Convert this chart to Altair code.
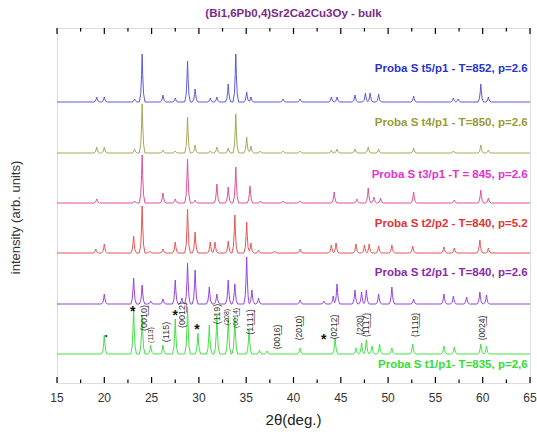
import altair as alt
import pandas as pd

FONT = "Liberation Sans"
X_MIN, X_MAX = 15, 65
Y_MAX = 355
PLOT_W, PLOT_H = 473, 355
HALF_WIDTH = 0.3

# ---- series (top to bottom) ----
series_names = ["t5", "t4", "t3", "t2p2", "t2p1", "t1"]
series_labels = [
    "Proba S t5/p1 - T=852, p=2.6",
    "Proba S t4/p1 - T=850, p=2.6",
    "Proba S t3/p1 -T = 845, p=2.6",
    "Proba S t2/p2 - T=840, p=5.2",
    "Proba S t2/p1 - T=840, p=2.6",
    "Proba S t1/p1- T=835, p=2,6",
]
line_colors = ["#5a5ad8", "#a6a65a", "#e0509a", "#e85555", "#9545e0", "#45e045"]
label_colors = ["#2a35c8", "#9a9a38", "#e830d0", "#e03535", "#8a2aa8", "#35dd35"]
offsets = [281, 230, 180, 130, 79, 29]
label_y = [314, 260, 208, 159, 110, 18]

t5_pos = [19.2, 20.0, 23.2, 24.0, 26.2, 27.5, 28.8, 29.6, 31.2, 31.9, 33.1, 33.9, 35.05, 35.5, 38.9,
          40.7, 44.0, 44.6, 46.5, 47.6, 48.1, 49.0, 52.7, 56.9, 57.4, 59.8, 60.6]
t5_h = [5, 5, 3, 48, 7, 4, 41, 13, 4, 5, 18, 48, 10, 5, 3,
        3, 5, 5, 7, 9, 9, 8, 6, 4, 3, 18, 5]

t4_pos = [19.2, 20.0, 23.2, 24.0, 26.2, 27.5, 28.8, 29.6, 31.2, 31.9, 33.1, 33.9, 35.05, 35.5, 36.5, 38.9,
          40.7, 44.0, 44.6, 46.5, 47.9, 49.0, 52.7, 56.9, 59.8, 60.6]
t4_h = [6, 6, 4, 49, 3, 2, 36, 8, 2, 6, 5, 39, 16, 7, 2, 2,
        2, 3, 4, 4, 6, 4, 5, 2, 8, 3]

t3_pos = [19.2, 23.2, 24.0, 26.2, 27.5, 28.8, 29.6, 31.9, 33.1, 33.9, 35.4, 36.5, 38.9,
          40.7, 44.3, 46.7, 47.9, 48.5, 49.2, 52.7, 57.0, 59.8, 60.6]
t3_h = [4, 2, 48, 10, 4, 44, 3, 19, 16, 36, 17, 2, 2,
        2, 11, 4, 15, 6, 5, 11, 3, 13, 5]

t2p2_pos = [19.1, 20.0, 23.1, 24.0, 24.8, 26.2, 27.5, 28.8, 29.6, 31.2, 31.7, 33.1, 33.8, 35.05, 35.5, 36.3, 38.0,
            40.7, 44.0, 44.5, 46.6, 47.5, 48.0, 49.0, 50.4, 52.6, 55.9, 57.0, 59.7, 60.6]
t2p2_h = [4, 9, 17, 47, 2, 4, 11, 44, 21, 11, 11, 12, 38, 31, 10, 3, 2,
          4, 8, 10, 9, 8, 9, 7, 8, 7, 6, 5, 13, 5]

t2p1_pos = [20.0, 23.1, 24.0, 24.9, 26.2, 27.5, 28.2, 28.8, 29.6, 31.1, 31.9, 33.1, 33.8, 35.05, 35.6, 36.3,
            40.7, 43.2, 44.2, 44.6, 46.5, 47.2, 47.7, 49.0, 50.4, 52.7, 55.9, 56.9, 58.3, 59.7, 60.4]
t2p1_h = [10, 26, 19, 3, 5, 24, 6, 41, 34, 17, 10, 24, 20, 47, 14, 6,
          4, 3, 8, 20, 14, 12, 14, 10, 17, 5, 10, 8, 7, 12, 9]

t1_pos = [20.0, 23.1, 24.0, 24.9, 26.2, 27.5, 28.8, 29.9, 31.1, 31.9, 33.1, 33.8, 35.3, 36.4, 37.2,
          40.7, 44.4, 46.6, 47.2, 47.7, 48.3, 49.1, 50.4, 52.6, 55.9, 57.0, 59.8, 60.4]
t1_h = [19, 46, 39, 9, 9, 35, 47, 21, 29, 39, 36, 37, 24, 4, 3,
        6, 16, 6, 11, 14, 8, 10, 6, 10, 8, 7, 10, 8]

peak_positions = [t5_pos, t4_pos, t3_pos, t2p2_pos, t2p1_pos, t1_pos]
peak_heights = [t5_h, t4_h, t3_h, t2p2_h, t2p1_h, t1_h]

# ---- annotations on the bottom pattern ----
star_x = [23.0, 27.5, 29.8, 43.2]
star_y = [74, 70, 56, 46]
dot_x = [20.2]
dot_y = [47]

hkl_text = ["(001\u03320\u0332)", "(113)", "(115)", "(001\u03322\u0332)", "(119)", "(208)", "(001\u03324\u0332)",
            "(11\u03321\u03321\u0332)", "(001\u03326\u0332)", "(201\u03320\u0332)", "(021\u03322\u0332)", "(220)",
            "(11\u03321\u03327\u0332)", "(11\u03321\u03329\u0332)", "(002\u03324\u0332)"]
hkl_x = [24.17, 24.9, 26.5, 28.2, 31.9, 33.0, 33.9, 35.4, 38.3, 40.6, 44.3, 47.0, 47.7, 52.8, 59.9]
hkl_y = [65, 48, 51, 68, 69, 66, 65, 61, 46, 55, 56, 58, 58, 58, 55]
hkl_size = [9, 7, 9, 9, 9, 7, 7, 9, 8.5, 8.5, 8.5, 8.5, 8.5, 8.5, 8.5]

# ---- axis tick values and titles ----
major_ticks = [15, 20, 25, 30, 35, 40, 45, 50, 55, 60, 65]
minor_ticks = [17.5, 22.5, 27.5, 32.5, 37.5, 42.5, 47.5, 52.5, 57.5, 62.5]
x_title = "2θ(deg.)"
y_title = "intensity (arb. units)"
chart_title = "(Bi1,6Pb0,4)Sr2Ca2Cu3Oy - bulk"

# ---- build line table from peak lists ----
rows = []
for s, (name, pos, hts, off) in enumerate(zip(series_names, peak_positions, peak_heights, offsets)):
    xs = {X_MIN, X_MAX}
    for p in pos:
        xs.update([round(p - HALF_WIDTH, 3), round(p - HALF_WIDTH / 2, 3), round(p - HALF_WIDTH / 5, 3), p,
                   round(p + HALF_WIDTH / 5, 3), round(p + HALF_WIDTH / 2, 3), round(p + HALF_WIDTH, 3)])
    for x in sorted(xs):
        v = 0.0
        for p, h in zip(pos, hts):
            d = abs(x - p)
            if d < HALF_WIDTH:
                frac = 1 - d / HALF_WIDTH
                v = max(v, h * frac ** 2.5)
        rows.append({"series": name, "order": s, "x": x, "y": off + v})
lines_df = pd.DataFrame(rows)

labels_df = pd.DataFrame({"series": series_names, "label": series_labels,
                          "x": [64.75] * 6, "y": label_y})
stars_df = pd.DataFrame({"x": star_x, "y": star_y})
dots_df = pd.DataFrame({"x": dot_x, "y": dot_y})
hkl_df = pd.DataFrame({"t": hkl_text, "x": hkl_x, "y": hkl_y, "s": hkl_size})
major_df = pd.DataFrame({"x": major_ticks, "t": [str(v) for v in major_ticks]})
minor_df = pd.DataFrame({"x": minor_ticks})

xscale = alt.Scale(domain=[X_MIN, X_MAX], nice=False, zero=False)
yscale = alt.Scale(domain=[0, Y_MAX], nice=False, zero=False)

X_PLAIN = alt.X("x:Q", scale=xscale, axis=None)
Y_PLAIN = alt.Y("y:Q", scale=yscale, axis=None)

lines = alt.Chart(lines_df).mark_line(strokeWidth=1, interpolate="linear").encode(
    x=X_PLAIN,
    y=Y_PLAIN,
    detail="series:N",
    color=alt.Color("series:N", scale=alt.Scale(domain=series_names, range=line_colors), legend=None),
    order="x:Q",
)


def tick_layer(df, y0, y1):
    return alt.Chart(df).mark_rule(color="#000000", strokeWidth=1.2).encode(
        x=X_PLAIN, y=alt.value(y0), y2=alt.value(y1))


ticks = [
    tick_layer(major_df, PLOT_H, PLOT_H - 6),
    tick_layer(minor_df, PLOT_H, PLOT_H - 3.5),
    tick_layer(major_df, 0, 6),
    tick_layer(minor_df, 0, 3.5),
]

tick_labels = alt.Chart(major_df).mark_text(fontSize=12, font=FONT, color="#333333",
                                            baseline="middle", align="center").encode(
    x=X_PLAIN, y=alt.value(PLOT_H + 15), text="t:N")

x_title_layer = alt.Chart(pd.DataFrame({"t": [x_title]})).mark_text(
    fontSize=15, font=FONT, color="#222222", baseline="middle", align="center").encode(
    x=alt.value(PLOT_W / 2), y=alt.value(PLOT_H + 37), text="t:N")

y_title_layer = alt.Chart(pd.DataFrame({"t": [y_title]})).mark_text(
    fontSize=13, font=FONT, color="#333333", baseline="middle", align="center", angle=270).encode(
    x=alt.value(-41), y=alt.value(PLOT_H / 2 + 12), text="t:N")

label_layer = alt.Chart(labels_df).mark_text(align="right", baseline="middle", fontSize=11.5,
                                             fontWeight="bold", font=FONT).encode(
    x=X_PLAIN,
    y=Y_PLAIN,
    text="label:N",
    color=alt.Color("series:N", scale=alt.Scale(domain=series_names, range=label_colors), legend=None),
)

star_layer = alt.Chart(stars_df).mark_text(text="*", fontSize=14, fontWeight="bold", font=FONT,
                                           color="#111111", baseline="middle", dy=3).encode(
    x=X_PLAIN, y=Y_PLAIN)
dot_layer = alt.Chart(dots_df).mark_text(text="•", fontSize=7, font=FONT, color="#111111",
                                         baseline="middle").encode(
    x=X_PLAIN, y=Y_PLAIN)

hkl_layer = alt.Chart(hkl_df).mark_text(angle=270, align="center", baseline="middle", font=FONT,
                                        color="#333333").encode(
    x=X_PLAIN, y=Y_PLAIN, text="t:N",
    size=alt.Size("s:Q", scale=None, legend=None))

chart = alt.layer(lines, *ticks, tick_labels, x_title_layer, y_title_layer,
                  label_layer, star_layer, dot_layer, hkl_layer).resolve_scale(
    color="independent").properties(
    width=PLOT_W, height=PLOT_H,
    title=alt.TitleParams(chart_title, fontSize=11.5, font=FONT, fontWeight="bold",
                          color="#7a2a8a", anchor="middle", offset=8),
    autosize=alt.AutoSizeParams(type="none"),
    padding={"left": 57, "top": 28, "right": 7, "bottom": 55},
).configure_view(stroke="#000000", strokeWidth=1.2).configure(background="white")

chart.save("out.html", embed_options={"renderer": "svg", "actions": False})
